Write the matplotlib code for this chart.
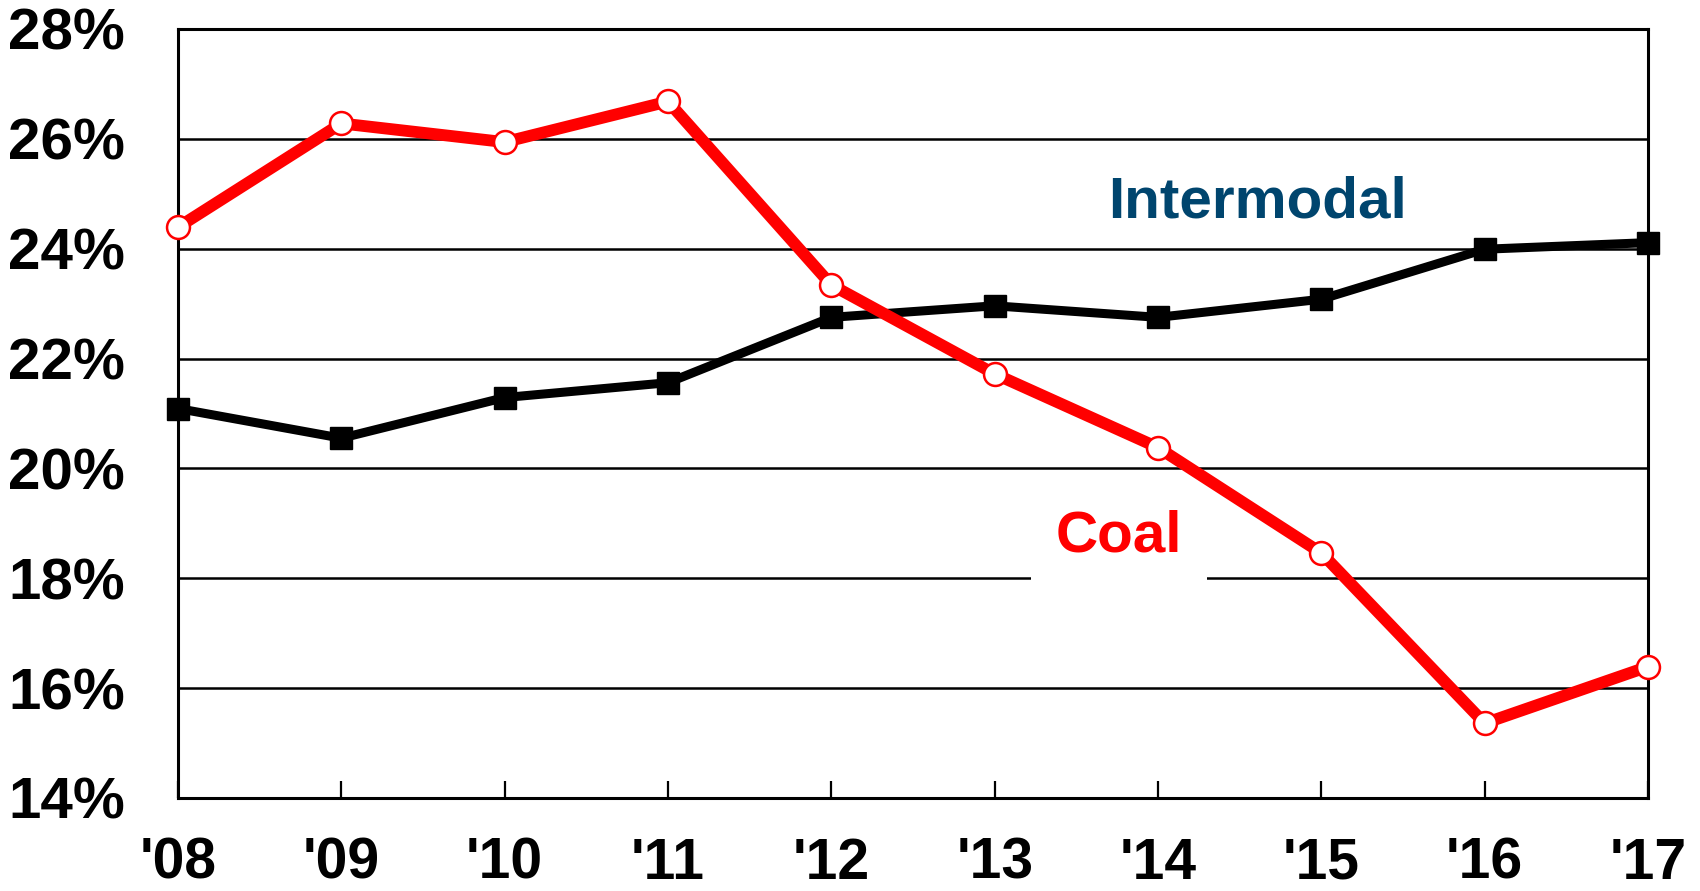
#!/usr/bin/env python3
"""Coal vs intermodal share of carloads, 2008-2017"""
import matplotlib
matplotlib.use('Agg')
import matplotlib.pyplot as plt
from matplotlib.ticker import FuncFormatter

years = ["'08", "'09", "'10", "'11", "'12", "'13", "'14", "'15", "'16", "'17"]
coal = [24.39, 26.28, 25.94, 26.68, 23.34, 21.72, 20.38, 18.46, 15.36, 16.39]
intermodal = [21.09, 20.55, 21.29, 21.56, 22.75, 22.96, 22.75, 23.08, 23.99, 24.11]
y_ticks = [14, 16, 18, 20, 22, 24, 26, 28]

plt.rcParams['font.family'] = ['Liberation Sans', 'DejaVu Sans']
plt.rcParams['font.weight'] = 'bold'

fig = plt.figure(figsize=(17, 8.91), dpi=100)
ax = fig.add_axes([0.1047, 0.1044, 0.8647, 0.8631])

x = list(range(len(years)))

# gridlines
for yv in y_ticks[1:-1]:
    ax.axhline(yv, color='black', lw=1.8, zorder=1)

ax.plot(x, intermodal, color='black', lw=6.5, marker='s', markersize=15.5,
        markerfacecolor='black', markeredgecolor='black', zorder=3, clip_on=False)
ax.plot(x, coal, color='#ff0000', lw=8.5, marker='o', markersize=16.5,
        markerfacecolor='white', markeredgecolor='#ff0000', markeredgewidth=1.8,
        zorder=4, clip_on=False)

ax.text(6.61, 24.56, 'Intermodal', color='#00456e', fontsize=42, fontweight='bold',
        ha='center', va='baseline', zorder=5)
ax.text(5.76, 18.48, 'Coal', color='#ff0000', fontsize=42, fontweight='bold',
        ha='center', va='baseline', zorder=2,
        bbox=dict(boxstyle='square,pad=0.42', facecolor='white', edgecolor='none'))

ax.set_xlim(0, len(years) - 1)
ax.set_ylim(14, 28)
ax.set_xticks(x)
ax.set_xticklabels(years)
ax.set_yticks(y_ticks)
ax.yaxis.set_major_formatter(FuncFormatter(lambda v, p: f'{v:.0f}%'))

ax.tick_params(axis='x', direction='in', length=12, width=1.6, pad=28,
               labelsize=41, colors='black')
ax.tick_params(axis='y', length=0, pad=38, labelsize=42)
for lab in ax.get_xticklabels() + ax.get_yticklabels():
    lab.set_fontweight('bold')

for s in ax.spines.values():
    s.set_linewidth(2.2)
    s.set_color('black')

plt.savefig('out.png', dpi=100)
plt.close()
